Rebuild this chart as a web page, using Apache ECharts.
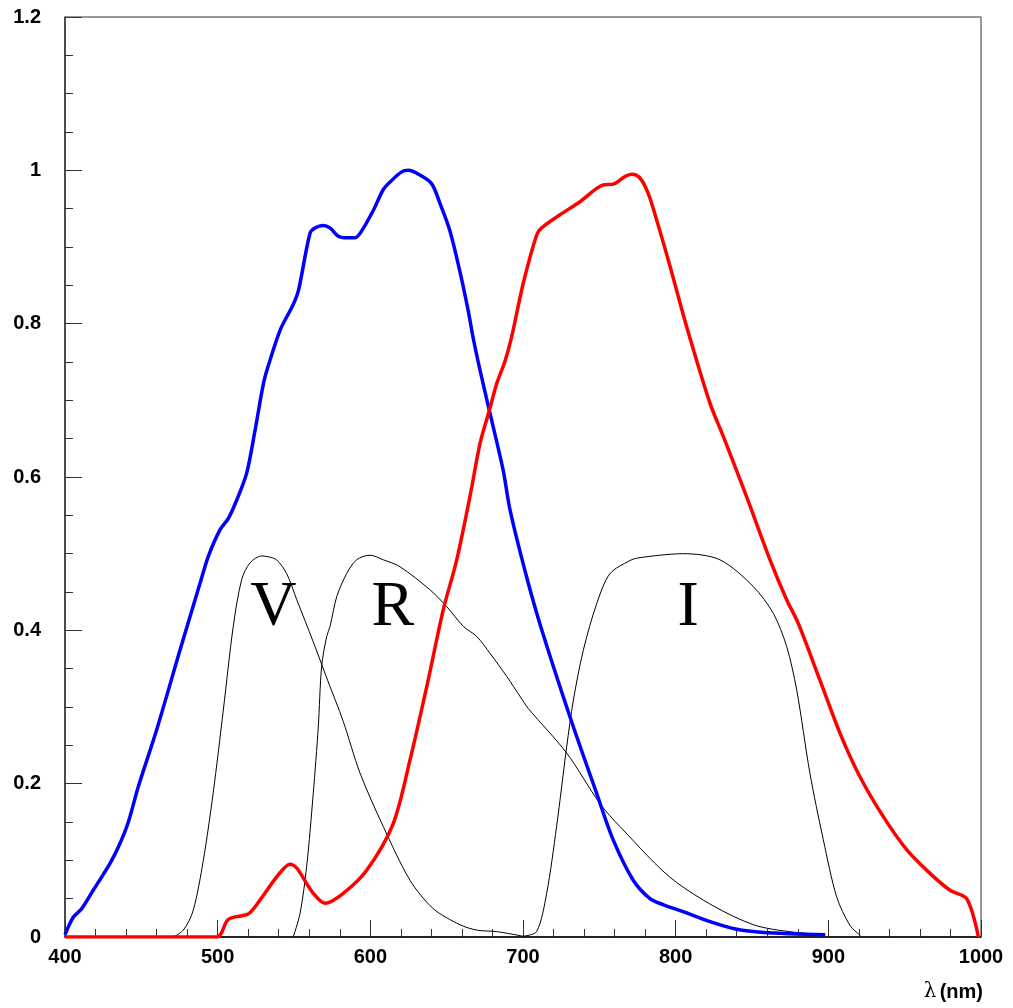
<!DOCTYPE html>
<html>
<head>
<meta charset="utf-8">
<script src="https://cdn.jsdelivr.net/npm/echarts@6/dist/echarts.min.js"></script>
<style>
html,body{margin:0;padding:0;background:#fff;}
#c{width:1013px;height:1008px;}
</style>
</head>
<body>
<div id="c"></div>
<script>
// Wavelength (nm) / efficiency arrays
const blueX = [400,405.5,411,418.5,429.5,436,441.5,448,460,475.3,488.4,494,501.5,507,512.5,519,524.5,530,533,541,549.5,553,560.5,564,569,573.5,579,584.5,590,594,602,608.5,613,620.5,625,631.5,640,645.6,652,658.7,664,667.5,672,678.4,687,691.5,701,711,730.8,748.3,759,772.2,783.2,792,805,822.5,840,857.4,898];
const blueY = [0.003,0.026,0.037,0.061,0.096,0.122,0.150,0.196,0.270,0.374,0.461,0.497,0.531,0.546,0.570,0.605,0.661,0.722,0.744,0.792,0.825,0.844,0.918,0.925,0.928,0.925,0.914,0.912,0.912,0.920,0.948,0.975,0.985,0.998,1.0,0.995,0.983,0.957,0.922,0.868,0.818,0.780,0.738,0.683,0.609,0.557,0.480,0.409,0.287,0.187,0.127,0.074,0.050,0.042,0.033,0.020,0.010,0.006,0.003];

const redX = [400,499.4,507,520,525.5,539.7,547.4,551.8,562.6,570.3,582.3,597.6,615,626,637,647.8,656.6,665.3,672,678.4,682.8,688.2,692.6,700.2,709,712.2,724.2,737.3,752.6,759.1,766.8,771.2,776.6,782,787.6,796.3,807.2,822.5,831.2,846.5,861.8,872.7,880.3,894.5,907.6,920.7,936,951.3,966.6,979.7,990.6,998.3];
const redY = [0,0,0.023,0.030,0.042,0.081,0.095,0.090,0.057,0.044,0.057,0.087,0.148,0.231,0.327,0.427,0.492,0.575,0.645,0.690,0.722,0.751,0.783,0.853,0.916,0.925,0.942,0.959,0.981,0.982,0.992,0.995,0.990,0.970,0.935,0.875,0.796,0.696,0.653,0.574,0.492,0.440,0.409,0.335,0.266,0.209,0.157,0.114,0.083,0.061,0.050,0.0];

const vX = [450,469,477.5,484,490.6,497,503.7,510.2,515.7,521.2,528.8,533,538.6,545.2,551.8,562.6,572,582.3,593.2,608.5,626,641.2,658.7,669.7,682.8,700.2];
const vY = [0,0,0.009,0.035,0.100,0.187,0.296,0.405,0.466,0.488,0.497,0.496,0.492,0.474,0.440,0.385,0.335,0.281,0.214,0.144,0.074,0.037,0.016,0.009,0.007,0.001];

const rX = [549.5,554,558.3,562.6,565.9,568.1,571.4,573.6,578,584.5,591,599.8,608.5,619.4,639,650,661,669.7,678.4,689.3,698,703.5,728.6,750.4,763.5,800.7,850.9,896.7];
const rY = [0,0.031,0.092,0.187,0.274,0.353,0.392,0.405,0.444,0.474,0.492,0.498,0.492,0.483,0.453,0.431,0.405,0.392,0.370,0.340,0.314,0.298,0.240,0.174,0.144,0.071,0.016,0.003];

const iX = [700,708.9,715.5,722,728.6,733,739.5,748.3,757,770,774.4,789.7,805,829,850.9,864,872.7,879.3,887.9,896.7,905.5,914.2,921];
const iY = [0.001,0.007,0.057,0.144,0.248,0.309,0.374,0.435,0.474,0.491,0.494,0.498,0.500,0.492,0.457,0.422,0.379,0.322,0.214,0.127,0.052,0.015,0.002];

// Band labels (text, wavelength, efficiency)
const bandNames = ['V','R','I'];
const bandX = [536.4,614.8,808.1];
const bandY = [0.429,0.429,0.429];

const xTicks = [400,500,600,700,800,900,1000];
const yTicks = [0,0.2,0.4,0.6,0.8,1,1.2];

function pairs(xs, ys){ return xs.map((x,i)=>[x, ys[i]]); }

const chart = echarts.init(document.getElementById('c'), null, {renderer:'canvas'});
const tickFont = {fontFamily:'Liberation Sans, Arial, sans-serif', fontWeight:'bold', fontSize:20, color:'#000'};

function line(data, color, width, smooth){
  return {type:'line', data:data, showSymbol:false, symbol:'none', smooth:smooth,
    lineStyle:{color:color, width:width}, silent:true, animation:false, z: width>2?3:2};
}

chart.setOption({
  animation:false,
  backgroundColor:'#fff',
  grid:{left:65, right:32, top:17, bottom:71, show:true, borderColor:'#333', borderWidth:1, backgroundColor:'transparent'},
  xAxis:{type:'value', min:xTicks[0], max:xTicks[xTicks.length-1], interval:100,
    axisLine:{show:true, lineStyle:{color:'#000', width:1.5}},
    axisTick:{show:true, inside:true, length:17, lineStyle:{color:'#333', width:1}},
    minorTick:{show:true, splitNumber:5, length:8, lineStyle:{color:'#333', width:1}},
    splitLine:{show:false},
    axisLabel:Object.assign({margin:10, formatter:v=>String(v)}, tickFont)},
  yAxis:{type:'value', min:yTicks[0], max:yTicks[yTicks.length-1], interval:0.2,
    axisLine:{show:true, lineStyle:{color:'#333', width:1.5}},
    axisTick:{show:true, inside:true, length:17, lineStyle:{color:'#333', width:1}},
    minorTick:{show:true, splitNumber:4, length:8, lineStyle:{color:'#333', width:1}},
    splitLine:{show:false},
    axisLabel:Object.assign({margin:24, formatter:v=>String(Math.round(v*10)/10)}, tickFont)},
  series:[
    line(pairs(vX,vY), '#000', 1, 0.3),
    line(pairs(rX,rY), '#000', 1, 0.3),
    line(pairs(iX,iY), '#000', 1, 0.3),
    line(pairs(blueX,blueY), '#0000ff', 3.5, 0.3),
    line(pairs(redX,redY), '#ff0000', 3.5, 0.3)
  ]
});

const g = bandNames.map((n,i)=>{
  const p = chart.convertToPixel({gridIndex:0}, [bandX[i], bandY[i]]);
  return {type:'text', x:p[0], y:p[1], z:10,
    style:{text:n, fill:'#000', font:'64px "Liberation Serif", "Times New Roman", serif', textAlign:'center', textVerticalAlign:'middle'}};
});
g.push({type:'text', right:30, bottom:6, z:10,
  style:{text:'{a|λ} {b|(nm)}', rich:{a:{fontFamily:'DejaVu Serif, serif', fontSize:20, fill:'#000'}, b:{fontFamily:'Liberation Sans, Arial, sans-serif', fontWeight:'bold', fontSize:20, fill:'#000'}}}});
chart.setOption({graphic:g});
</script>
</body>
</html>
